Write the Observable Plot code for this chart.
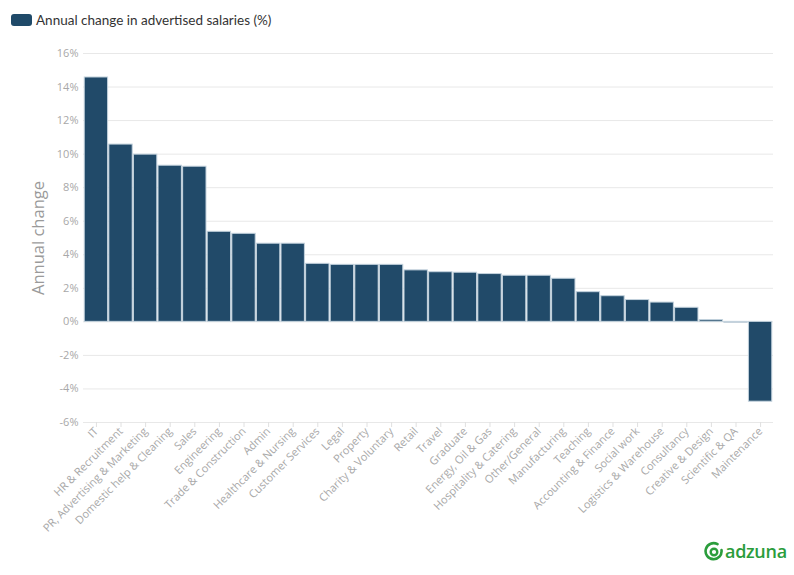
<!DOCTYPE html>
<html><head><meta charset="utf-8">
<script src="https://cdn.jsdelivr.net/npm/d3@7"></script>
<script src="https://cdn.jsdelivr.net/npm/@observablehq/plot@0.6"></script>
<style>
body{margin:0;background:#fff;width:794px;height:575px;overflow:hidden;position:relative;font-family:Lato,"Noto Sans",sans-serif}
#legend{position:absolute;left:11px;top:12px;display:flex;align-items:center;font-size:13.5px;color:#333;white-space:nowrap}
#legend .sw{width:21px;height:12px;background:#1f4a69;border-radius:3px;margin-right:4px}
#chart{position:absolute;left:0;top:30px}
#logo{position:absolute;left:704px;top:539px;display:flex;align-items:center;color:#2b9d3c;font-family:"Open Sans",sans-serif;font-weight:600;font-size:18px;letter-spacing:-0.3px}
#logo svg{margin-right:1px}
</style>
</head><body>
<div id="legend"><div class="sw"></div><span>Annual change in advertised salaries (%)</span></div>
<div id="chart"></div>
<div id="logo"><svg width="20" height="20" viewBox="0 0 20 20"><path d="M13.5 3.2 A8 8 0 1 0 17.5 9" fill="none" stroke="#2b9d3c" stroke-width="2.6" stroke-linecap="round"/><circle cx="10" cy="11" r="3.3" fill="none" stroke="#2b9d3c" stroke-width="2.4"/></svg><span>adzuna</span></div>
<script>
const categories = ["IT","HR & Recruitment","PR, Advertising & Marketing","Domestic help & Cleaning","Sales","Engineering","Trade & Construction","Admin","Healthcare & Nursing","Customer Services","Legal","Property","Charity & Voluntary","Retail","Travel","Graduate","Energy, Oil & Gas","Hospitality & Catering","Other/General","Manufacturing","Teaching","Accounting & Finance","Social work","Logistics & Warehouse","Consultancy","Creative & Design","Scientific & QA","Maintenance"];
const values = [14.57,10.57,9.97,9.31,9.25,5.37,5.25,4.66,4.66,3.46,3.4,3.4,3.4,3.07,2.96,2.93,2.85,2.75,2.75,2.57,1.77,1.53,1.30,1.15,0.84,0.1,-0.05,-4.76];
const yTicks = [-6,-4,-2,0,2,4,6,8,10,12,14,16];
const data = categories.map((c,i)=>({category:c, value:values[i]}));
const chart = Plot.plot({
  width:794, height:545, marginTop:23, marginBottom:153, marginLeft:83, marginRight:21,
  style:{fontFamily:"'Open Sans',sans-serif", fontSize:"11px", background:"transparent"},
  x:{domain:categories, padding:0.05, round:false, label:null},
  y:{domain:[-6,16], ticks:yTicks, label:null},
  marks:[
    Plot.gridY(yTicks,{stroke:"#e8e8e8", strokeOpacity:1}),
    Plot.axisY(yTicks,{tickSize:0, tickPadding:5, tickFormat:d=>d+"%", fill:"#a8a8a8", label:null}),
    Plot.axisX({tickRotate:-45, tickSize:5, stroke:"#e0e0e0", strokeOpacity:1, tickPadding:2, fill:"#a8a8a8", label:null}),
    Plot.barY(data,{x:"category", y:"value", fill:"#214a69", stroke:"#c3d2dd", strokeWidth:1}),
    Plot.text(["Annual change"],{frameAnchor:"left", dx:-45, rotate:-90, textAnchor:"middle", fontSize:16.5, fill:"#9a9a9a", fontFamily:"'Open Sans',sans-serif"})
  ]
});
document.getElementById("chart").appendChild(chart);
</script>
</body></html>
